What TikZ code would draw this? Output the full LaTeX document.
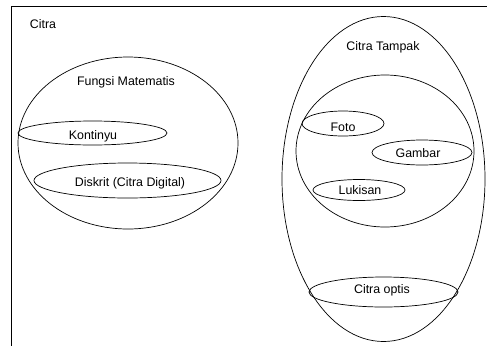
\documentclass[tikz,border=0pt]{standalone}
\usepackage{fontspec}
\setmainfont{Liberation Sans}
\usetikzlibrary{shapes.geometric}
\begin{document}
\begin{tikzpicture}[x=1pt,y=-1pt,
  ell/.style={draw,ellipse,line width=0.7pt,inner sep=0pt},
  lbl/.style={font=\fontsize{12.4}{14}\selectfont,inner sep=0pt}]
\useasboundingbox (0,0) rectangle (487,346);
\coordinate (tr) at (487,6);
\coordinate (tl) at (11,6);
\coordinate (bl) at (11,346);
\draw[line width=0.7pt] (tr) -- (tl) -- (bl);
\node[lbl] (citra) at (43,24) {Citra};
% left group
\node[ell,minimum width=220pt,minimum height=172pt] (fm) at (128,143) {};
\node[ell,minimum width=149pt,minimum height=24pt] (kon) at (92.5,133) {};
\node[ell,minimum width=187pt,minimum height=35pt] (dis) at (127.5,180.5) {};
\node[lbl] (fmt) at (126,82) {Fungsi Matematis};
\node[lbl] (kont) at (93,136) {Kontinyu};
\node[lbl] (dist) at (130,183) {Diskrit (Citra Digital)};
% right group
\node[ell,minimum width=203pt,minimum height=325pt] (ct) at (383.5,179) {};
\node[ell,minimum width=178pt,minimum height=152pt] (inner) at (385,151) {};
\node[ell,minimum width=82pt,minimum height=25pt] (foto) at (343,123.5) {};
\node[ell,minimum width=100pt,minimum height=25pt] (gam) at (422,152.5) {};
\node[ell,minimum width=92pt,minimum height=21pt] (luk) at (359,190) {};
\node[ell,minimum width=149pt,minimum height=30pt] (opt) at (383.5,292) {};
\node[lbl] (ctt) at (383,47) {Citra Tampak};
\node[lbl] (fotot) at (343,127) {Foto};
\node[lbl] (gamt) at (418,153) {Gambar};
\node[lbl] (lukt) at (360,190) {Lukisan};
\node[lbl] (optt) at (382,290) {Citra optis};
\end{tikzpicture}
\end{document}
